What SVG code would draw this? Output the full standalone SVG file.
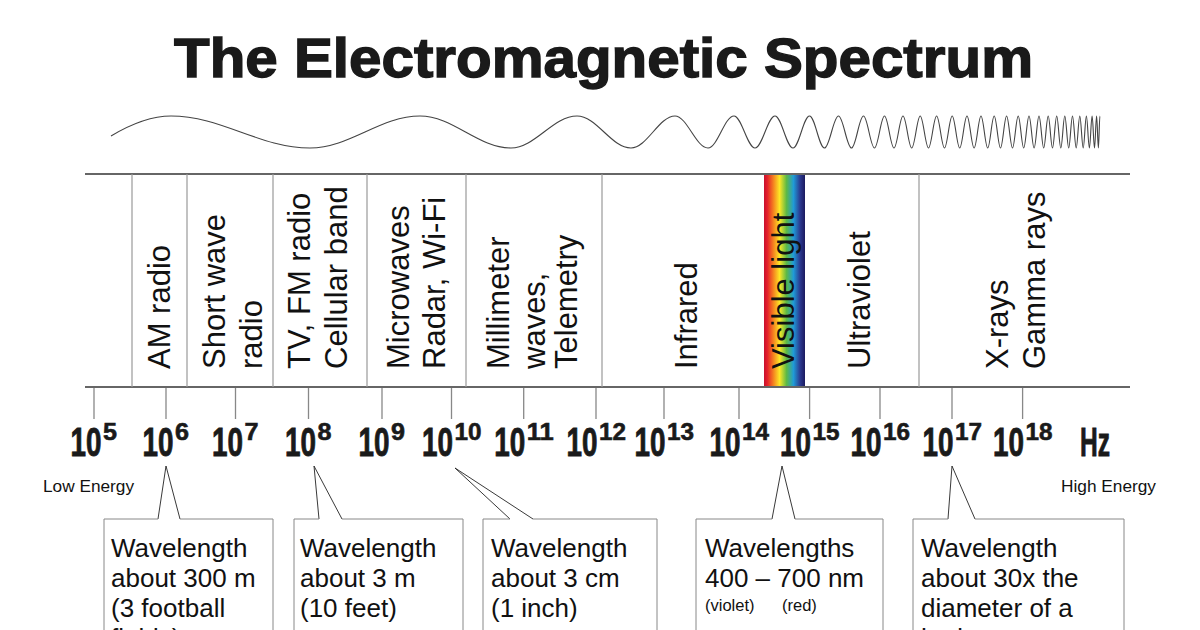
<svg xmlns="http://www.w3.org/2000/svg" width="1200" height="630" viewBox="0 0 1200 630">
<defs>
<style>
.title{font-family:"Liberation Sans",Arial,sans-serif;font-weight:bold;font-size:55px;fill:#1a1a1a;stroke:#1a1a1a;stroke-width:1.4}
.band{font-family:"Liberation Sans",Arial,sans-serif;font-size:31px;fill:#111}
.num{font-family:"Liberation Sans Narrow","Liberation Sans",Arial,sans-serif;font-weight:bold;font-size:40px;fill:#1a1a1a;stroke:#1a1a1a;stroke-width:0.9}
.exp{font-family:"Liberation Sans Narrow","Liberation Sans",Arial,sans-serif;font-weight:bold;font-size:24px;fill:#1a1a1a;stroke:#1a1a1a;stroke-width:0.6}
.energy{font-family:"Liberation Sans",Arial,sans-serif;font-size:16px;fill:#111}
.box{fill:none;stroke:#888;stroke-width:1}
.btxt{font-family:"Liberation Sans",Arial,sans-serif;font-size:26px;fill:#111}
.small{font-family:"Liberation Sans",Arial,sans-serif;font-size:16.5px;fill:#111}
.frame{stroke:#666;stroke-width:2}
.div{stroke:#999;stroke-width:1.2}
.tick{stroke:#888;stroke-width:1.3}
.ptr{fill:none;stroke:#222;stroke-width:0.9}
</style>
<linearGradient id="rainbow" x1="0" y1="0" x2="1" y2="0">
<stop offset="0" stop-color="#c8102e"/>
<stop offset="0.08" stop-color="#e4202a"/>
<stop offset="0.22" stop-color="#f47b20"/>
<stop offset="0.38" stop-color="#fde725"/>
<stop offset="0.55" stop-color="#5cb946"/>
<stop offset="0.72" stop-color="#1f9bd7"/>
<stop offset="0.88" stop-color="#2b3990"/>
<stop offset="1" stop-color="#1b1a5e"/>
</linearGradient>
</defs>
<rect width="1200" height="630" fill="#fff"/>

<g id="title"><text class="title" x="603.5" y="77" text-anchor="middle" textLength="859" lengthAdjust="spacingAndGlyphs">The Electromagnetic Spectrum</text></g>

<g id="wave"><path fill="none" stroke="#444" stroke-width="1.1" d="M111,136 C131,124 151,116 171,116 c50.6,0 88.4,32 139,32 c40,0 70,-32 110,-32 c33.1,0 57.9,32 91,32 c24,0 42,-32 66,-32 c19.7,0 34.3,32 54,32 c16,0 28,-32 44,-32 c12,0 21,32 33,32 c9.5,0 16.5,-32 26,-32 c7.6,0 13.4,32 21,32 c7.3,0 12.7,-32 20,-32 c6.6,0 11.4,32 18,32 c6,0 10.5,-32 16.5,-32 c5.5,0 9.5,32 15,32 c5.1,0 8.9,-32 14,-32 c4.7,0 8.3,32 13,32 c4.4,0 7.6,-32 12,-32 c4,0 7,32 11,32 c3.6,0 6.4,-32 10,-32 c3.5,0 6,32 9.5,32 c3.3,0 5.7,-32 9,-32 c3.2,0 5.5,32 8.7,32 c3.1,0 5.4,-32 8.5,-32 c3,0 5.3,32 8.3,32 c2.9,0 5.2,-32 8.1,-32 c2.9,0 5,32 7.9,32 c2.8,0 4.9,-32 7.7,-32 c2.7,0 4.8,32 7.5,32 c2.7,0 4.6,-32 7.3,-32 c2.6,0 4.5,32 7.1,32 c2.5,0 4.4,-32 6.9,-32 c2.4,0 4.3,32 6.7,32 c2.4,0 4.1,-32 6.5,-32 c2.3,0 4,32 6.3,32 c2.2,0 3.9,-32 6.1,-32 c2.1,0 3.8,32 5.9,32 c2.1,0 3.6,-32 5.7,-32 c2,0 3.5,32 5.5,32 c1.9,0 3.4,-32 5.3,-32 c1.9,0 3.2,32 5.1,32 c1.8,0 3.1,-32 4.9,-32 c1.7,0 3,32 4.7,32 c1.6,0 2.9,-32 4.5,-32 c1.6,0 2.7,32 4.3,32 c1.5,0 2.7,-32 4.2,-32 c1.5,0 2.6,32 4.1,32 c1.5,0 2.5,-32 4,-32 c1.4,0 2.5,32 3.9,32 c1.4,0 2.4,-32 3.8,-32 c1.3,0 2.4,32 3.7,32 c1.3,0 2.3,-32 3.6,-32 c1.2,0 2.2,32 3.4,32 c1.2,0 2,-32 3.2,-32 c1.1,0 1.9,32 3,32 c1,0 1.7,-32 2.7,-32 c0.9,0 1.5,32 2.4,32 c0.8,0 1.3,-32 2.1,-32 c0.7,0 1.1,32 1.8,32 c0.5,0 1,-32 1.5,-32"/></g>

<g id="spectrum-frame">
<rect x="764" y="174" width="41" height="213" fill="url(#rainbow)"/>
<line class="frame" x1="85" y1="174" x2="1130" y2="174"/>
<line class="frame" x1="85" y1="387" x2="1130" y2="387"/>
<line class="div" x1="132" y1="174" x2="132" y2="387"/>
<line class="div" x1="187" y1="174" x2="187" y2="387"/>
<line class="div" x1="273" y1="174" x2="273" y2="387"/>
<line class="div" x1="367" y1="174" x2="367" y2="387"/>
<line class="div" x1="466" y1="174" x2="466" y2="387"/>
<line class="div" x1="602" y1="174" x2="602" y2="387"/>
<line class="div" x1="919" y1="174" x2="919" y2="387"/>
</g>

<g id="band-am"><text class="band" transform="translate(169.5,369) rotate(-90)">AM radio</text></g>
<g id="band-shortwave"><text class="band" transform="translate(225,369) rotate(-90)">Short wave</text><text class="band" transform="translate(261.5,369) rotate(-90)">radio</text></g>
<g id="band-tv"><text class="band" transform="translate(310,369) rotate(-90)">TV, FM radio</text><text class="band" transform="translate(346.5,369) rotate(-90)">Cellular band</text></g>
<g id="band-microwaves"><text class="band" transform="translate(408.5,369) rotate(-90)">Microwaves</text><text class="band" transform="translate(445,369) rotate(-90)">Radar, Wi-Fi</text></g>
<g id="band-millimeter"><text class="band" transform="translate(508.5,369) rotate(-90)">Millimeter</text><text class="band" transform="translate(545,369) rotate(-90)">waves,</text><text class="band" transform="translate(577,369) rotate(-90)">Telemetry</text></g>
<g id="band-infrared"><text class="band" transform="translate(696.5,369) rotate(-90)">Infrared</text></g>
<g id="band-visible"><text class="band" transform="translate(793.5,369) rotate(-90)">Visible light</text></g>
<g id="band-uv"><text class="band" transform="translate(870,369) rotate(-90)">Ultraviolet</text></g>
<g id="band-xray"><text class="band" transform="translate(1008,369) rotate(-90)">X-rays</text><text class="band" transform="translate(1045,369) rotate(-90)">Gamma rays</text></g>

<g id="ticks">
<line class="tick" x1="94" y1="388" x2="94" y2="419"/>
<line class="tick" x1="166" y1="388" x2="166" y2="419"/>
<line class="tick" x1="235.5" y1="388" x2="235.5" y2="419"/>
<line class="tick" x1="308.5" y1="388" x2="308.5" y2="419"/>
<line class="tick" x1="382" y1="388" x2="382" y2="419"/>
<line class="tick" x1="451.5" y1="388" x2="451.5" y2="419"/>
<line class="tick" x1="523.7" y1="388" x2="523.7" y2="419"/>
<line class="tick" x1="596" y1="388" x2="596" y2="419" stroke="#555"/>
<line class="tick" x1="664" y1="388" x2="664" y2="419"/>
<line class="tick" x1="739" y1="388" x2="739" y2="419"/>
<line class="tick" x1="809.6" y1="388" x2="809.6" y2="419" stroke="#555"/>
<line class="tick" x1="880" y1="388" x2="880" y2="419"/>
<line class="tick" x1="952" y1="388" x2="952" y2="419"/>
<line class="tick" x1="1022.6" y1="388" x2="1022.6" y2="419" stroke="#555"/>
</g>

<g id="f5"><text class="num" x="70.5" y="456" textLength="31" lengthAdjust="spacingAndGlyphs">10</text><text class="exp" x="103" y="440" textLength="14" lengthAdjust="spacingAndGlyphs">5</text></g>
<g id="f6"><text class="num" x="142.5" y="456" textLength="31" lengthAdjust="spacingAndGlyphs">10</text><text class="exp" x="175" y="440" textLength="14" lengthAdjust="spacingAndGlyphs">6</text></g>
<g id="f7"><text class="num" x="212" y="456" textLength="31" lengthAdjust="spacingAndGlyphs">10</text><text class="exp" x="244.5" y="440" textLength="14" lengthAdjust="spacingAndGlyphs">7</text></g>
<g id="f8"><text class="num" x="285" y="456" textLength="31" lengthAdjust="spacingAndGlyphs">10</text><text class="exp" x="317.5" y="440" textLength="14" lengthAdjust="spacingAndGlyphs">8</text></g>
<g id="f9"><text class="num" x="358.5" y="456" textLength="31" lengthAdjust="spacingAndGlyphs">10</text><text class="exp" x="391" y="440" textLength="14" lengthAdjust="spacingAndGlyphs">9</text></g>
<g id="f10"><text class="num" x="422" y="456" textLength="31" lengthAdjust="spacingAndGlyphs">10</text><text class="exp" x="454.5" y="440" textLength="27" lengthAdjust="spacingAndGlyphs">10</text></g>
<g id="f11"><text class="num" x="494.2" y="456" textLength="31" lengthAdjust="spacingAndGlyphs">10</text><text class="exp" x="526.7" y="440" textLength="27" lengthAdjust="spacingAndGlyphs">11</text></g>
<g id="f12"><text class="num" x="566.5" y="456" textLength="31" lengthAdjust="spacingAndGlyphs">10</text><text class="exp" x="599" y="440" textLength="27" lengthAdjust="spacingAndGlyphs">12</text></g>
<g id="f13"><text class="num" x="634.5" y="456" textLength="31" lengthAdjust="spacingAndGlyphs">10</text><text class="exp" x="667" y="440" textLength="27" lengthAdjust="spacingAndGlyphs">13</text></g>
<g id="f14"><text class="num" x="709.5" y="456" textLength="31" lengthAdjust="spacingAndGlyphs">10</text><text class="exp" x="742" y="440" textLength="27" lengthAdjust="spacingAndGlyphs">14</text></g>
<g id="f15"><text class="num" x="780.1" y="456" textLength="31" lengthAdjust="spacingAndGlyphs">10</text><text class="exp" x="812.6" y="440" textLength="27" lengthAdjust="spacingAndGlyphs">15</text></g>
<g id="f16"><text class="num" x="850.5" y="456" textLength="31" lengthAdjust="spacingAndGlyphs">10</text><text class="exp" x="883" y="440" textLength="27" lengthAdjust="spacingAndGlyphs">16</text></g>
<g id="f17"><text class="num" x="922.5" y="456" textLength="31" lengthAdjust="spacingAndGlyphs">10</text><text class="exp" x="955" y="440" textLength="27" lengthAdjust="spacingAndGlyphs">17</text></g>
<g id="f18"><text class="num" x="993.1" y="456" textLength="31" lengthAdjust="spacingAndGlyphs">10</text><text class="exp" x="1025.6" y="440" textLength="27" lengthAdjust="spacingAndGlyphs">18</text></g>
<g id="hz"><text class="num" x="1080" y="456" textLength="30" lengthAdjust="spacingAndGlyphs">Hz</text></g>

<g id="low-energy"><text class="energy" x="43" y="492" textLength="91" lengthAdjust="spacingAndGlyphs">Low Energy</text></g>
<g id="high-energy"><text class="energy" x="1061" y="492" textLength="95" lengthAdjust="spacingAndGlyphs">High Energy</text></g>

<g id="connectors">
<polyline class="ptr" points="158,519 166,466 180,519"/>
<polyline class="ptr" points="319,519 314,466 342,519"/>
<polyline class="ptr" points="510,519 455,468 533,519"/>
<polyline class="ptr" points="772,519 782,466 795,519"/>
<polyline class="ptr" points="948,519 952,466 975,519"/>
</g>

<g id="callout-am">
<path class="box" d="M104,660 V519 H158 M180,519 H273 V660"/>
<text class="btxt" x="111" y="557">Wavelength</text>
<text class="btxt" x="111" y="587">about 300 m</text>
<text class="btxt" x="111" y="617">(3 football</text>
<text class="btxt" x="111" y="647">fields)</text>
</g>
<g id="callout-fm">
<path class="box" d="M294,660 V519 H319 M342,519 H463 V660"/>
<text class="btxt" x="300" y="557">Wavelength</text>
<text class="btxt" x="300" y="587">about 3 m</text>
<text class="btxt" x="300" y="617">(10 feet)</text>
</g>
<g id="callout-micro">
<path class="box" d="M483,660 V519 H510 M533,519 H657 V660"/>
<text class="btxt" x="491" y="557">Wavelength</text>
<text class="btxt" x="491" y="587">about 3 cm</text>
<text class="btxt" x="491" y="617">(1 inch)</text>
</g>
<g id="callout-visible">
<path class="box" d="M696,660 V519 H772 M795,519 H883 V660"/>
<text class="btxt" x="705" y="557">Wavelengths</text>
<text class="btxt" x="705" y="587">400 – 700 nm</text>
<text class="small" x="705" y="611">(violet)</text>
<text class="small" x="782" y="611">(red)</text>
</g>
<g id="callout-xray">
<path class="box" d="M913,660 V519 H948 M975,519 H1124 V660"/>
<text class="btxt" x="921" y="557">Wavelength</text>
<text class="btxt" x="921" y="587">about 30x the</text>
<text class="btxt" x="921" y="617">diameter of a</text>
<text class="btxt" x="921" y="647">hydrogen atom</text>
</g>
</svg>
